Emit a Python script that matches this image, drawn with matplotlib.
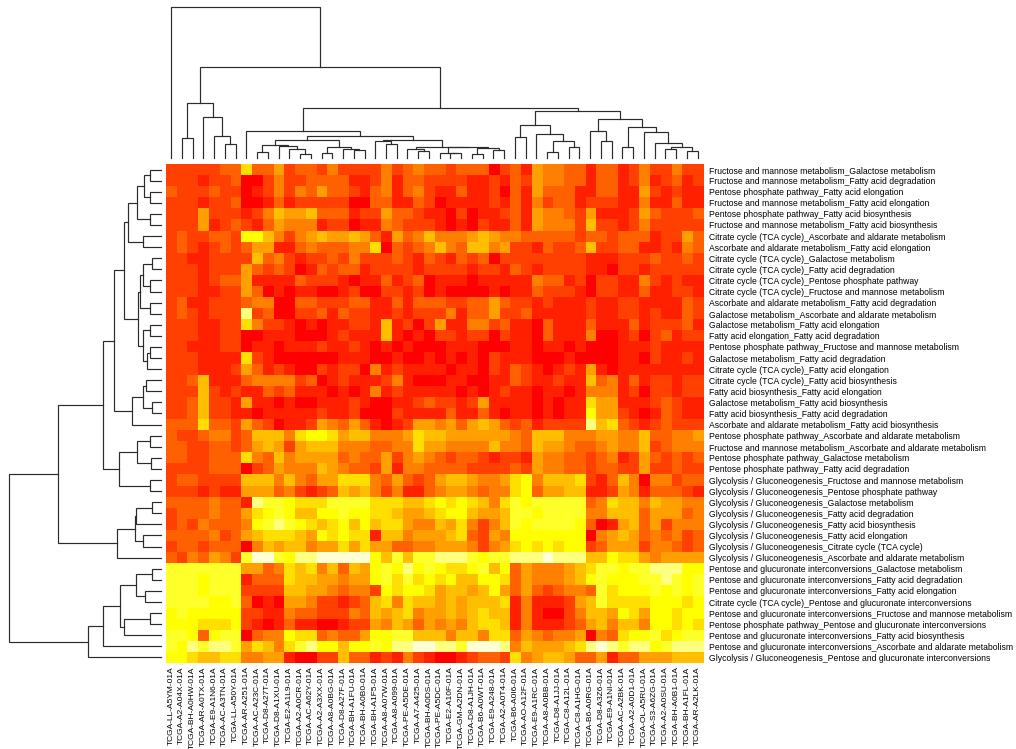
import matplotlib
matplotlib.use("Agg")
import matplotlib.pyplot as plt
from matplotlib.colors import ListedColormap

W, H = 1016, 749

# R heat.colors(12)
heat_colors = ["#FF0000", "#FF2000", "#FF4000", "#FF6000", "#FF8000", "#FF9F00",
               "#FFBF00", "#FFDF00", "#FFFF00", "#FFFF2A", "#FFFF80", "#FFFFD5"]

samples = """TCGA-LL-A5YM-01A TCGA-A2-A04X-01A TCGA-BH-A0HW-01A TCGA-AR-A0TX-01A TCGA-E9-A1N6-01A
TCGA-AC-A3TN-01A TCGA-LL-A50Y-01A TCGA-AR-A251-01A TCGA-AC-A23C-01A TCGA-D8-A27T-01A
TCGA-D8-A1XU-01A TCGA-E2-A1L9-01A TCGA-A2-A0CR-01A TCGA-AC-A62Y-01A TCGA-A2-A3XX-01A
TCGA-A8-A0BG-01A TCGA-D8-A27F-01A TCGA-BH-A1FU-01A TCGA-BH-A0B0-01A TCGA-BH-A1F5-01A
TCGA-A8-A07W-01A TCGA-A8-A099-01A TCGA-PE-A5DE-01A TCGA-A7-A425-01A TCGA-BH-A0DS-01A
TCGA-PE-A5DC-01A TCGA-E2-A10F-01A TCGA-GM-A2DN-01A TCGA-D8-A1JH-01A TCGA-B6-A0WT-01A
TCGA-E9-A248-01A TCGA-A2-A0T4-01A TCGA-B6-A0I6-01A TCGA-AO-A12F-01A TCGA-E9-A1RC-01A
TCGA-A8-A0BB-01A TCGA-D8-A1JJ-01A TCGA-C8-A12L-01A TCGA-C8-A1HG-01A TCGA-B6-A0RG-01A
TCGA-D8-A3Z6-01A TCGA-E9-A1NI-01A TCGA-AC-A2BK-01A TCGA-A2-A0D1-01A TCGA-OL-A5RU-01A
TCGA-S3-A6ZG-01A TCGA-A2-A0SU-01A TCGA-BH-A0B1-01A TCGA-BH-A1FL-01A TCGA-AR-A2LK-01A""".split()

FM = "Fructose and mannose metabolism"
PP = "Pentose phosphate pathway"
CC = "Citrate cycle (TCA cycle)"
AA = "Ascorbate and aldarate metabolism"
GA = "Galactose metabolism"
FE = "Fatty acid elongation"
FD = "Fatty acid degradation"
FB = "Fatty acid biosynthesis"
GG = "Glycolysis / Gluconeogenesis"
PG = "Pentose and glucuronate interconversions"

pathway_pairs = [
    (FM, GA), (FM, FD), (PP, FE), (FM, FE), (PP, FB), (FM, FB), (CC, AA), (AA, FE), (CC, GA),
    (CC, FD), (CC, PP), (CC, FM), (AA, FD), (GA, AA), (GA, FE), (FE, FD), (PP, FM), (GA, FD),
    (CC, FE), (CC, FB), (FB, FE), (GA, FB), (FB, FD), (AA, FB), (PP, AA), (FM, AA), (PP, GA),
    (PP, FD), (GG, FM), (GG, PP), (GG, GA), (GG, FD), (GG, FB), (GG, FE), (GG, CC), (GG, AA),
    (PG, GA), (PG, FD), (PG, FE), (CC, PG), (PG, FM), (PP, PG), (PG, FB), (PG, AA), (GG, PG),
]

# colour level (hex digit, index into heat_colors) per cell, one string per row
levels = [
    "2222233733523324222242343" + "3233302315443313312422422",
    "2221223002422333311241332" + "2221121325443313312412312",
    "3222322012424353321341342" + "1131120315333113311521211",
    "2221223001312222200331132" + "0111121314233122211411311",
    "2225222124655633312253321" + "1020112315443251112532223",
    "2225123213544412201143222" + "1010211315444262212422222",
    "2322332886424565565315346" + "4445654433333233233312253",
    "2321232355113433344703234" + "6436645221322362233112143",
    "2211222263421223242223213" + "2132302222222211122232232",
    "2221222532320132331222212" + "2221221321222211022122222",
    "2221233511113222101131230" + "1110111114331202211421211",
    "2221122530101100120022120" + "1000010113222102211311221",
    "2311222344003322233113133" + "3223353221211121122111132",
    "2321222a23002231322112122" + "2413352231111121122121132",
    "2221122742210101122161202" + "5114423110311131113122231",
    "2221122001110001211161010" + "2212202110311140012023122",
    "2211122011011121121010100" + "0111000110110100011121111",
    "2221111721000000111001001" + "0101021110001000011021121",
    "2221112531210021220412111" + "1011021321012151011111111",
    "2236111344442301211124100" + "0110011321121163413122122",
    "2226212113231110101412111" + "1101012110110144412022122",
    "2236221511010011121001123" + "2212511110101175511123211",
    "2236221101111121120002111" + "1311310110101185521013211",
    "3337332532011254353101255" + "45356532312222a6732123222",
    "3223442366647887566444576" + "6555555436664445544633445",
    "3322332356525666444334475" + "5444464436554334544623444",
    "3322333743645555343352454" + "3233212215443323412532323",
    "2222333023544465433251443" + "3332222325443323322522322",
    "2332222666464355777435323" + "5665445784666721364044233",
    "2221211555342123656424113" + "4554344783556611254133321",
    "33334331a9987779999777667" + "8787647989999934766465544",
    "2333433578986688988776556" + "7886556998999944666355534",
    "2324333489a98767868677544" + "6574246989999830156352444",
    "3333423567776587877166455" + "5673254888888804565343423",
    "2332333046566455757553344" + "5554245787878823555244323",
    "32435429bb98aabbbbb869699" + "aaa9899aaabaaa66877545555",
    "9999999553476746365898a89" + "87789683544456799899aaa88",
    "9998999133376655455897978" + "786688735444568988899a989",
    "9998999222266554344287887" + "5665685353234439788898989",
    "9999889301055422123674766" + "5656667141112569777788878",
    "8988888221143322243656745" + "5656766141002466587588788",
    "8887778210131100122546535" + "4546776141112356466488787",
    "9983899034487734335889966" + "6466477354344504378897899",
    "98a9aa9576479a8868898aabb" + "aa9bbba4655567aba9aa89aaa",
    "8876677445510022633121421" + "0012332745665335133555666",
]

# merge trees: (height, left, right), None is a leaf, leaves in display order
L = None
col_tree = (151, L, (91,
    (55, (20.3, L, L), (41, L, (22.6, L, (14, L, L)))),
    (50,
     (27, L, (22.6,
        (18,
         (13, (6, L, L), (12, L, (9.6, L, (4, L, L)))),
         (11.6, (5, L, L), (9.6, L, (8, L, L)))),
        (18.6,
         (17, L, (14, L, L)),
         (11.6,
          (9.6, L, (7.3, L, L)),
          (11,
           (5.5, L, (5, L, L)),
           (10.3, (4, L, L), (8, L, L))))))),
     (47.6,
      (33, (21.6, L, L), (24.3, L, (17, (6, L, L), (11, L, L)))),
      (39.3,
       (27, L, (17, L, L)),
       (31.6, (11.6, L, L), (26, L, (15, L, (11.6, (9, L, L), (7.3, L, L))))))))))

row_tree = (151.4,
    (102.4,
     (57.4,
      (46.4,
       (36.4,
        (32.7,
         (24, (16.7, (10.4, L, L), (11, L, L)), (11, L, L)),
         (17.4, L, L)),
        (23,
         (20.4, (17.4, (8.4, L, L), (11, L, L)), (11, L, L)),
         (17.4, (10.4, L, L), (13.4, (11, L, L), L)))),
       (28.4, (18, (15, L, L), (8.4, L, L)), L)),
      (41.4, (23.7, (11, L, L), (10, L, L)), (11, L, L))),
     (44, (25.4, (24.7, (8.7, L, L), L), (17.4, L, L)), L)),
    (72.7,
     (57.4,
      (40.7,
       (24.4, (8.4, L, L), (15.7, L, L)),
       (36.4, (11, L, L), L)),
      L),
     L))

row_labels = [a + "_" + b for a, b in pathway_pairs]
matrix = [[int(c, 16) for c in row] for row in levels]


def px_axes(fig, left, top, right, bottom):
    return fig.add_axes([left / W, 1 - bottom / H, (right - left) / W, (bottom - top) / H])


def draw_tree(ax, node, next_leaf, horizontal):
    # returns leaf-axis position and height of node
    if node is None:
        pos = next_leaf[0]
        next_leaf[0] += 1
        return pos, 0
    h, left, right = node
    p1, h1 = draw_tree(ax, left, next_leaf, horizontal)
    p2, h2 = draw_tree(ax, right, next_leaf, horizontal)
    a = [p1, p1, p2, p2]
    b = [h1, h, h, h2]
    if horizontal:
        ax.plot(b, a, color="#2b2b2b", lw=0.85, solid_joinstyle="miter", clip_on=False)
    else:
        ax.plot(a, b, color="#2b2b2b", lw=0.85, solid_joinstyle="miter", clip_on=False)
    return (p1 + p2) / 2, h


plt.rcParams["font.family"] = ["Liberation Sans", "DejaVu Sans"]
fig = plt.figure(figsize=(W / 100, H / 100), dpi=100)

ax = px_axes(fig, 165.7, 164, 703, 663)
ax.imshow(matrix, cmap=ListedColormap(heat_colors), vmin=0, vmax=11,
          aspect="auto", interpolation="nearest")
for s in ax.spines.values():
    s.set_visible(False)
ax.set_xticks(range(len(samples)))
ax.set_xticklabels(samples, rotation=90, fontsize=6.0, color="black")
ax.set_yticks(range(len(row_labels)))
ax.set_yticklabels(row_labels, fontsize=6.2, color="black")
ax.yaxis.tick_right()
ax.tick_params(length=0)
ax.tick_params(axis="x", pad=2.5)
ax.tick_params(axis="y", pad=4)

top = px_axes(fig, 165.7, 7.3, 703, 158.3)
draw_tree(top, col_tree, [0], False)
top.set_xlim(-0.5, 49.5)
top.set_ylim(0, 151)
top.axis("off")

side = px_axes(fig, 9.3, 164, 160.7, 663)
draw_tree(side, row_tree, [0], True)
side.set_ylim(44.5, -0.5)
side.set_xlim(151.4, 0)
side.axis("off")

fig.savefig("out.png", dpi=100, facecolor="white")
